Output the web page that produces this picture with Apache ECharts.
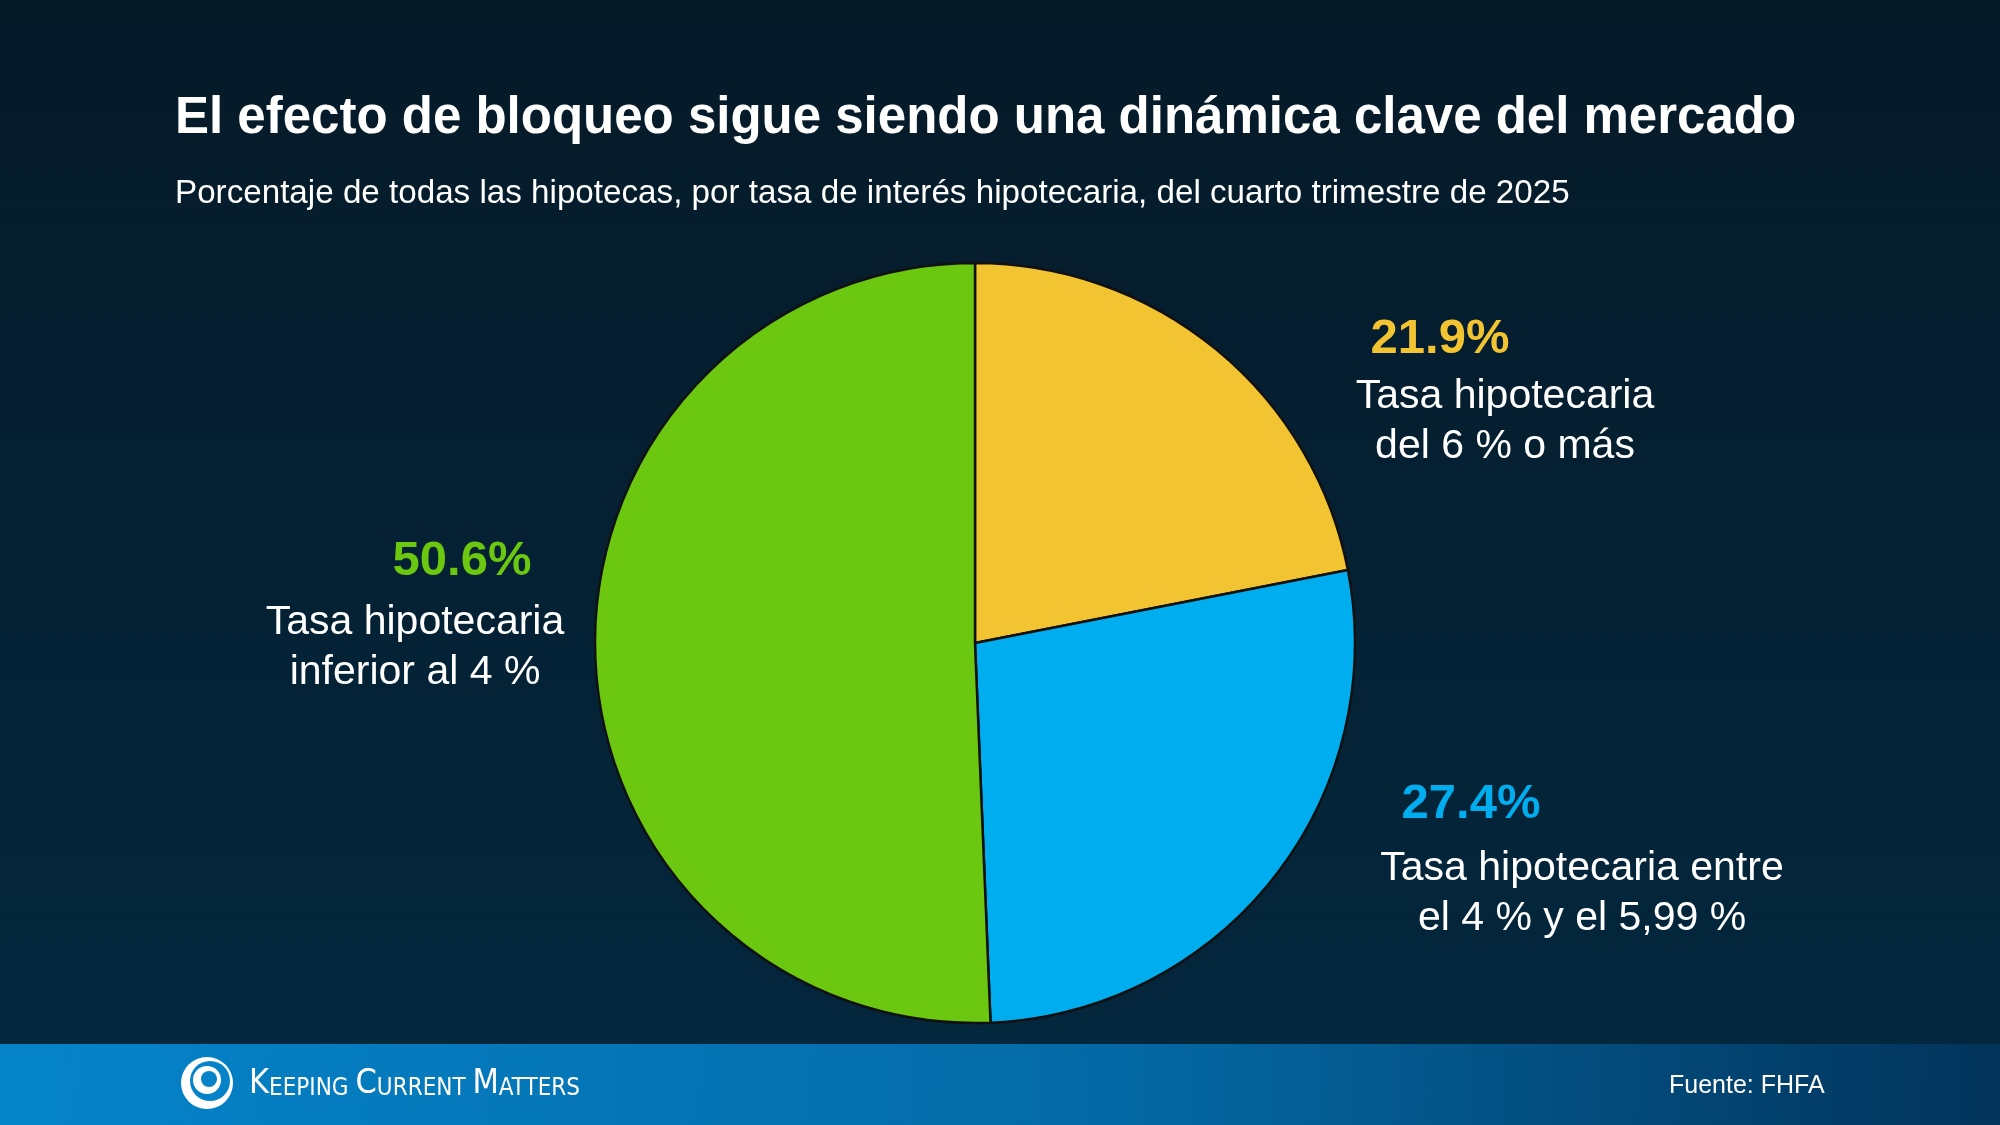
<!DOCTYPE html>
<html lang="es">
<head>
  <meta charset="UTF-8">
  <title>El efecto de bloqueo</title>
  <script src="https://cdn.jsdelivr.net/npm/echarts@6/dist/echarts.min.js"></script>
  <style>
    html, body { margin: 0; padding: 0; background: #061a28; }
    #chart { width: 2000px; height: 1125px; }
  </style>
</head>
<body>
  <div id="chart"></div>
  <script>
    // datos
    var categorias = ['Tasa hipotecaria\ndel 6 % o más', 'Tasa hipotecaria entre\nel 4 % y el 5,99 %', 'Tasa hipotecaria\ninferior al 4 %']
    var valores = [21.9, 27.4, 50.6]
    var colores = ['#F2C431', '#00AEEF', '#6BC70F']

    // posiciones de las etiquetas (porcentaje y texto)
    var posPct = [[1440, 339], [1471, 804], [462, 561]]
    var posTxt = [[1505, 422], [1582, 894], [415, 648]]

    var font = '"Liberation Sans", Arial, Helvetica, sans-serif'
    var fontLogo = '"Liberation Sans Narrow", "DejaVu Sans Condensed", sans-serif'
    var chart = echarts.init(document.getElementById('chart'))

    var graficos = [
      {
        type: 'rect',
        shape: { x: 0, y: 1044, width: 2000, height: 81 },
        style: {
          fill: new echarts.graphic.LinearGradient(0, 0, 1, 1, [
            { offset: 0, color: '#0584CA' },
            { offset: 0.55, color: '#046aa6' },
            { offset: 1, color: '#02335a' }
          ])
        },
        silent: true
      },
      // logo
      { type: 'circle', shape: { cx: 207, cy: 1083, r: 26 }, style: { fill: '#fff' } },
      { type: 'circle', shape: { cx: 210, cy: 1081, r: 20 }, style: { fill: '#0582C8' } },
      { type: 'circle', shape: { cx: 207, cy: 1080, r: 14 }, style: { fill: '#fff' } },
      { type: 'circle', shape: { cx: 209, cy: 1079, r: 8 }, style: { fill: '#0582C8' } },
      {
        type: 'text', x: 249, y: 1084,
        style: {
          text: '{b|K}{s|EEPING }{b|C}{s|URRENT }{b|M}{s|ATTERS}',
          verticalAlign: 'middle',
          fill: '#fff',
          rich: {
            b: { fontSize: 34, fontFamily: fontLogo, fill: '#fff', verticalAlign: 'bottom', textStroke: '#fff', lineWidth: 0.6 },
            s: { fontSize: 24, fontFamily: fontLogo, fill: '#fff', verticalAlign: 'bottom', textStroke: '#fff', lineWidth: 0.6 }
          }
        }
      },
      {
        type: 'text', x: 1669, y: 1086,
        style: { text: 'Fuente: FHFA', fill: '#fff', fontSize: 25, fontFamily: font, verticalAlign: 'middle' }
      }
    ]

    valores.forEach(function (v, i) {
      graficos.push({
        type: 'text', x: posPct[i][0], y: posPct[i][1],
        style: {
          text: v.toFixed(1) + '%', fill: colores[i], fontSize: 49, fontWeight: 'bold',
          fontFamily: font, align: 'center', verticalAlign: 'middle'
        }
      })
      graficos.push({
        type: 'text', x: posTxt[i][0], y: posTxt[i][1],
        style: {
          text: categorias[i], fill: '#fff', fontSize: 41, lineHeight: 50,
          fontFamily: font, align: 'center', verticalAlign: 'middle'
        }
      })
    })

    var option = {
      backgroundColor: new echarts.graphic.LinearGradient(0, 0, 0, 1, [
        { offset: 0, color: '#061a28' },
        { offset: 1, color: '#03283f' }
      ]),
      animation: false,
      title: [
        {
          text: 'El efecto de bloqueo sigue siendo una dinámica clave del mercado',
          left: 170, top: 88,
          textStyle: { color: '#fff', fontSize: 51, fontWeight: 'bold', fontFamily: font }
        },
        {
          text: 'Porcentaje de todas las hipotecas, por tasa de interés hipotecaria, del cuarto trimestre de 2025',
          left: 170, top: 172,
          textStyle: { color: '#fff', fontSize: 33.2, fontWeight: 'normal', fontFamily: font }
        }
      ],
      series: [
        {
          type: 'pie',
          center: [975, 643],
          radius: [0, 380],
          startAngle: 90,
          clockwise: true,
          label: { show: false },
          labelLine: { show: false },
          silent: true,
          itemStyle: { borderColor: '#111', borderWidth: 2.5 },
          data: valores.map(function (v, i) {
            return { value: v, name: categorias[i], itemStyle: { color: colores[i] } }
          })
        }
      ],
      graphic: graficos
    }
    chart.setOption(option)
  </script>
</body>
</html>
